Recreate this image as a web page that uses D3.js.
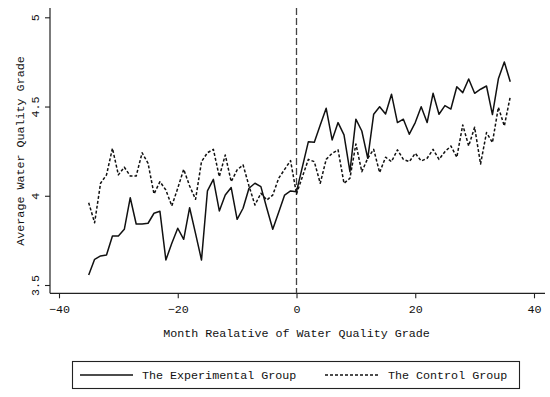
<!DOCTYPE html>
<html>
<head>
<meta charset="utf-8">
<script src="https://cdn.jsdelivr.net/npm/d3@7"></script>
<style>
  html, body { margin: 0; padding: 0; background: #fff; }
  svg { display: block; }
  text { font-family: "Liberation Mono", "DejaVu Sans Mono", monospace; fill: #111; }
</style>
</head>
<body>
<svg id="chart" width="550" height="397"></svg>
<script>
// ---- data ----
const months = d3.range(-35, 37);
const experimental = [
  3.556, 3.644, 3.663, 3.668, 3.775, 3.775, 3.812, 3.989, 3.842, 3.842,
  3.846, 3.902, 3.913, 3.640, 3.734, 3.818, 3.756, 3.933, 3.788, 3.640,
  4.027, 4.092, 3.915, 4.004, 4.046, 3.868, 3.930, 4.042, 4.070, 4.051,
  3.930, 3.812, 3.907, 4.004, 4.027, 4.023,
  4.163, 4.303, 4.300, 4.397, 4.490, 4.313, 4.410, 4.341, 4.135, 4.429,
  4.363, 4.210, 4.457, 4.499, 4.458, 4.569, 4.410, 4.429, 4.345, 4.410,
  4.499, 4.410, 4.574, 4.457, 4.505, 4.486, 4.611, 4.578, 4.654, 4.574,
  4.597, 4.615, 4.455, 4.655, 4.750, 4.639
];
const control = [
  3.961, 3.849, 4.070, 4.117, 4.266, 4.117, 4.160, 4.111, 4.111, 4.241,
  4.182, 4.010, 4.079, 4.032, 3.943, 4.042, 4.148, 4.055, 3.980, 4.191,
  4.241, 4.260, 4.107, 4.229, 4.079, 4.145, 4.173, 4.055, 3.948, 4.014,
  3.976, 4.004, 4.098, 4.148, 4.197, 4.010,
  4.107, 4.204, 4.191, 4.070, 4.204, 4.238, 4.257, 4.070, 4.098, 4.290,
  4.135, 4.210, 4.260, 4.130, 4.216, 4.191, 4.257, 4.204, 4.191, 4.238,
  4.195, 4.210, 4.260, 4.204, 4.247, 4.279, 4.216, 4.397, 4.279, 4.384,
  4.178, 4.354, 4.298, 4.496, 4.391, 4.555
];
const xTicks = [-40, -20, 0, 20, 40];
const yTicks = [3.5, 4, 4.5, 5];
const yTickLabels = ["3.5", "4", "4.5", "5"];
const seriesNames = ["The Experimental Group", "The Control Group"];
const xTitle = "Month Realative of Water Quality Grade";
const yTitle = "Average Water Quality Grade";

// ---- layout ----
const svg = d3.select("#chart");
const FS = 11.7;
const axX = 50, axY = 293.3, axTop = 8, axRight = 545;
const x = d3.scaleLinear().domain([-40, 40]).range([59, 534]);
const y = d3.scaleLinear().domain([3.5, 5]).range([285, 17.3]);

// axes lines
svg.append("line").attr("x1", axX).attr("x2", axX).attr("y1", axTop).attr("y2", axY)
  .attr("stroke", "#222").attr("stroke-width", 1.2);
svg.append("line").attr("x1", axX).attr("x2", axRight).attr("y1", axY).attr("y2", axY)
  .attr("stroke", "#222").attr("stroke-width", 1.2);

// y axis ticks
const yAxis = d3.axisLeft(y).tickValues(yTicks).tickSize(5).tickSizeOuter(0)
  .tickFormat((d, i) => yTickLabels[i]);
const gy = svg.append("g").attr("transform", `translate(${axX},0)`).call(yAxis);
gy.select(".domain").remove();
gy.selectAll(".tick line").attr("stroke", "#222").attr("stroke-width", 1.1);
gy.selectAll(".tick text")
  .attr("x", 0).attr("dy", 0)
  .attr("transform", "translate(-11,0) rotate(-90)")
  .attr("text-anchor", "middle")
  .style("font-size", FS + "px")
  .style("font-family", '"Liberation Mono", monospace');

// x axis ticks
const xAxis = d3.axisBottom(x).tickValues(xTicks).tickSize(5).tickSizeOuter(0)
  .tickFormat(d => d < 0 ? "\u2212" + Math.abs(d) : String(d));
const gx = svg.append("g").attr("transform", `translate(0,${axY})`).call(xAxis);
gx.select(".domain").remove();
gx.selectAll(".tick line").attr("stroke", "#222").attr("stroke-width", 1.1);
gx.selectAll(".tick text").attr("y", 11).attr("dy", "0.71em")
  .style("font-size", FS + "px")
  .style("font-family", '"Liberation Mono", monospace');

// titles
svg.append("text").attr("x", 296.5).attr("y", 337).attr("text-anchor", "middle")
  .style("font-size", FS + "px").text(xTitle);
svg.append("text").attr("transform", "translate(24,151) rotate(-90)")
  .attr("text-anchor", "middle").style("font-size", FS + "px").text(yTitle);

// vertical reference line at 0
svg.append("line").attr("x1", x(0)).attr("x2", x(0)).attr("y1", axTop).attr("y2", axY)
  .attr("stroke", "#444").attr("stroke-width", 1.3).attr("stroke-dasharray", "7,3");

// series lines
const line = d3.line().x((d, i) => x(months[i])).y(d => y(d));
svg.append("path").datum(control).attr("d", line).attr("fill", "none")
  .attr("stroke", "#111").attr("stroke-width", 1.5).attr("stroke-dasharray", "3,2")
  .attr("stroke-linejoin", "round");
svg.append("path").datum(experimental).attr("d", line).attr("fill", "none")
  .attr("stroke", "#111").attr("stroke-width", 1.5).attr("stroke-linejoin", "round");

// legend
const lg = svg.append("g");
lg.append("rect").attr("x", 72.5).attr("y", 361.5).attr("width", 447).attr("height", 27)
  .attr("fill", "#fff").attr("stroke", "#222").attr("stroke-width", 1.1);
lg.append("line").attr("x1", 80).attr("x2", 133).attr("y1", 375).attr("y2", 375)
  .attr("stroke", "#111").attr("stroke-width", 1.5);
lg.append("text").attr("x", 142).attr("y", 375).attr("dy", "0.35em")
  .style("font-size", FS + "px").text(seriesNames[0]);
lg.append("line").attr("x1", 325).attr("x2", 378).attr("y1", 375).attr("y2", 375)
  .attr("stroke", "#111").attr("stroke-width", 1.5).attr("stroke-dasharray", "3,2");
lg.append("text").attr("x", 388).attr("y", 375).attr("dy", "0.35em")
  .style("font-size", FS + "px").text(seriesNames[1]);
</script>
</body>
</html>
